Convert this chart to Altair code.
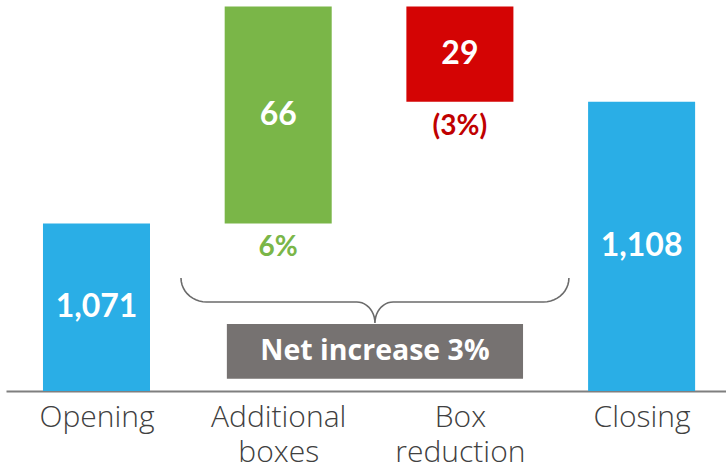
import json
import altair as alt
import numpy as np
import pandas as pd

# ---------------- data ----------------
categories = ["Opening", "Additional boxes", "Box reduction", "Closing"]
axis_labels = ["Opening", "Additional|boxes", "Box|reduction", "Closing"]
values = [1071, 66, -29, 1108]
kinds = ["total", "delta", "delta", "total"]
value_labels = ["1,071", "66", "29", "1,108"]
pct_labels = ["", "6%", "(3%)", ""]
net_label = "Net increase 3%"

# ---------------- styles / layout ----------------
Y_MIN, Y_MAX = 1020, 1139
X_DOM = [-0.498, 3.4645]
HALF_W = 0.2945
BLUE, GREEN, RED = "#2AAEE6", "#7AB648", "#D40404"
PCT_GREEN, PCT_RED = "#7AB648", "#C00000"
GRAY_BOX = "#767271"
FONT = "Lato"
LABEL_FONT = "Open Sans"

rows = []
running = 0
for i, (c, v, k, vl, pl) in enumerate(zip(categories, values, kinds, value_labels, pct_labels)):
    if k == "total":
        lo, hi = Y_MIN, v
        running = v
        col, pcol = BLUE, BLUE
    else:
        a, b = running, running + v
        lo, hi = min(a, b), max(a, b)
        running = b
        col = GREEN if v > 0 else RED
        pcol = PCT_GREEN if v > 0 else PCT_RED
    rows.append(dict(cat=c, idx=i, lo=lo, hi=hi, mid=(lo + hi) / 2,
                     color=col, pcolor=pcol, vlabel=vl, plabel=pl))
df = pd.DataFrame(rows)

xscale = alt.Scale(domain=X_DOM, nice=False, zero=False)
yscale = alt.Scale(domain=[Y_MIN, Y_MAX], nice=False, zero=False)

label_expr = "split(" + json.dumps(axis_labels) + "[datum.value], '|')"

base = alt.Chart(df)

bars = base.mark_bar().transform_calculate(
    x0=f"datum.idx - {HALF_W}", x1=f"datum.idx + {HALF_W}"
).encode(
    x=alt.X("x0:Q", scale=xscale, axis=alt.Axis(
        values=[0, 1, 2, 3], labelExpr=label_expr, title=None,
        ticks=False, grid=False, domainColor="#7f7f7f", domainWidth=2,
        labelFont=LABEL_FONT, labelFontSize=30, labelFontWeight=300, labelColor="#404040",
        labelPadding=11, labelLineHeight=35, labelFlush=False, labelOverlap=False,
        labelBaseline="top")),
    x2="x1:Q",
    y=alt.Y("lo:Q", scale=yscale, axis=None),
    y2="hi:Q",
    color=alt.Color("color:N", scale=None),
)

vtext = base.mark_text(font=FONT, fontSize=32, fontWeight="bold", color="white",
                       baseline="middle").encode(
    x=alt.X("idx:Q", scale=xscale),
    y=alt.Y("mid:Q", scale=yscale, axis=None), text="vlabel:N")

ptext = base.mark_text(font=FONT, fontSize=28, fontWeight="bold", baseline="middle",
                       dy=25).encode(
    x=alt.X("idx:Q", scale=xscale),
    y=alt.Y("lo:Q", scale=yscale, axis=None), text="plabel:N",
    color=alt.Color("pcolor:N", scale=None))

# ---------------- brace annotation (spans the two movement bars) ----------------
i_add, i_red = 1, 2
x_left, x_right = i_add - 0.535, i_red + 0.60
x_mid = (x_left + x_right) / 2
y_top, y_mid, y_tip = 1054.4, 1047.1, 1040.7
rx1, ry1 = 0.14, y_top - y_mid
rx2, ry2 = 0.10, y_mid - y_tip

pts = []
def arc(cx, cy, rx, ry, t0, t1, n=12):
    for t in np.linspace(t0, t1, n):
        pts.append((cx + rx * np.cos(t), cy + ry * np.sin(t)))

arc(x_left + rx1, y_top, rx1, ry1, np.pi, 1.5 * np.pi)
arc(x_mid - rx2, y_tip, rx2, ry2, 0.5 * np.pi, 0.0)
arc(x_mid + rx2, y_tip, rx2, ry2, np.pi, 0.5 * np.pi)
arc(x_right - rx1, y_top, rx1, ry1, 1.5 * np.pi, 2 * np.pi)
brace_df = pd.DataFrame({"bx": [p[0] for p in pts], "by": [p[1] for p in pts],
                         "ord": list(range(len(pts)))})

brace = alt.Chart(brace_df).mark_line(color="#6b6b6b", strokeWidth=1.6).encode(
    x=alt.X("bx:Q", scale=xscale),
    y=alt.Y("by:Q", scale=yscale, axis=None), order="ord:Q")

box_df = pd.DataFrame({"x0": [x_mid - 0.815], "x1": [x_mid + 0.815],
                       "y0": [1023.7], "y1": [1040.4], "xm": [x_mid],
                       "ym": [(1023.7 + 1040.4) / 2], "t": [net_label]})
box = alt.Chart(box_df).mark_rect(color=GRAY_BOX).encode(
    x=alt.X("x0:Q", scale=xscale), x2="x1:Q",
    y=alt.Y("y0:Q", scale=yscale, axis=None), y2="y1:Q")
box_text = alt.Chart(box_df).mark_text(font=LABEL_FONT, fontSize=28.5, fontWeight="bold",
                                       color="white", baseline="middle").encode(
    x=alt.X("xm:Q", scale=xscale),
    y=alt.Y("ym:Q", scale=yscale, axis=None), text="t:N")

chart = alt.layer(bars, vtext, ptext, brace, box, box_text).properties(
    width=720, height=391,
    background="white",
    autosize=alt.AutoSizeParams(type="none"),
    padding={"left": 6, "top": 0, "right": 0, "bottom": 80},
).configure_view(stroke=None)

chart.save("out.html", embed_options={"renderer": "svg", "actions": False})
